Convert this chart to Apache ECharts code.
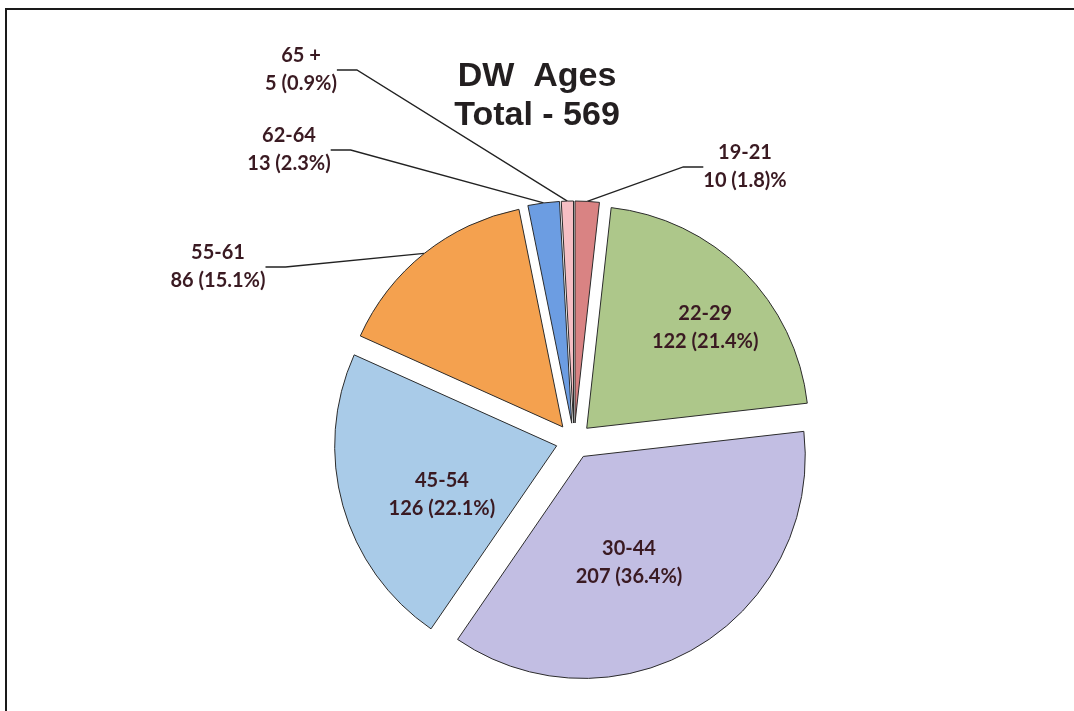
<!DOCTYPE html>
<html lang="en">
<head>
    <meta charset="UTF-8">
    <title>DW Ages</title>
    <script src="https://cdn.jsdelivr.net/npm/echarts@6/dist/echarts.min.js"></script>
    <style>
        html, body { margin: 0; padding: 0; background: #fff; }
        #cc { width: 1074px; height: 711px; }
    </style>
</head>
<body>
<div id="cc"></div>
<script>
// data
var ageGroups = ['19-21', '22-29', '30-44', '45-54', '55-61', '62-64', '65 +'];
var counts = [10, 122, 207, 126, 86, 13, 5];
var valueLabels = ['10 (1.8)%', '122 (21.4%)', '207 (36.4%)', '126 (22.1%)', '86 (15.1%)', '13 (2.3%)', '5 (0.9%)'];
var total = 569;

var colors = ['#d98383', '#adc78a', '#c2bee3', '#a9cbe8', '#f4a14f', '#6c9de2', '#f6bfc4'];
// nudges for the labels drawn on the slice
var insideSlices = { 1: [38, -20], 2: [-13, 8], 3: [-5, 18] };
// where the outside labels sit (label centre)
var outsidePos = { 0: [745, 167], 4: [218, 267], 5: [289, 150], 6: [301, 70] };

var pieCenter = [574, 441];
var pieRadius = 222;
var explode = 18;

var chart = echarts.init(document.getElementById('cc'));

var sum = counts.reduce(function (a, b) { return a + b; }, 0);

// each slice gets its own pie series, pushed out along its mid angle
var series = [];
var cum = 0;
counts.forEach(function (v, i) {
    var mid = (cum + v / 2) / sum * Math.PI * 2;
    cum += v;
    var inside = insideSlices[i];
    series.push({
        type: 'pie',
        center: [pieCenter[0] + explode * Math.sin(mid), pieCenter[1] - explode * Math.cos(mid)],
        radius: [0, pieRadius],
        startAngle: 90,
        clockwise: true,
        silent: true,
        avoidLabelOverlap: false,
        emphasis: { disabled: true },
        data: ageGroups.map(function (name, j) {
            var on = j === i;
            return {
                name: name,
                value: counts[j],
                itemStyle: on
                    ? { color: colors[j], borderColor: '#2b2b2b', borderWidth: 1 }
                    : { color: 'rgba(0,0,0,0)', borderWidth: 0 },
                label: on
                    ? (inside ? { show: true, position: 'inside', offset: inside } : { show: true, position: 'outside' })
                    : { show: false },
                labelLine: { show: on && !inside }
            };
        }),
        label: {
            formatter: function (p) { return p.name + '\n' + valueLabels[p.dataIndex]; },
            fontFamily: 'Lato',
            fontWeight: 'bold',
            fontSize: 20,
            lineHeight: 28,
            color: '#3a1a22',
            align: 'center'
        },
        labelLine: {
            lineStyle: { color: '#222', width: 1.3 },
            length: 20,
            length2: 20
        },
        labelLayout: function (params) {
            var pos = outsidePos[params.dataIndex];
            if (!pos || params.dataIndex !== i) return {};
            return { x: pos[0], y: pos[1], align: 'center', verticalAlign: 'middle' };
        }
    });
});

chart.setOption({
    animation: false,
    title: {
        text: 'DW  Ages\nTotal - ' + total,
        left: 'center',
        top: 52,
        textStyle: {
            fontFamily: 'Liberation Sans',
            fontWeight: 'bold',
            fontSize: 34,
            lineHeight: 39,
            color: '#231f20'
        }
    },
    graphic: [{
        type: 'rect',
        shape: { x: 6, y: 9, width: 1100, height: 760 },
        style: { fill: null, stroke: '#1a1a1a', lineWidth: 2 },
        silent: true
    }],
    series: series
});
</script>
</body>
</html>
